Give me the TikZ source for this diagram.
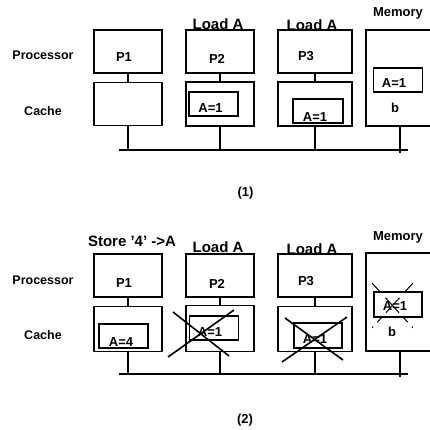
\documentclass[tikz,border=0pt]{standalone}
\usepackage{fontspec}
\setmainfont{Liberation Sans}
\usetikzlibrary{positioning}

\begin{document}
\begin{tikzpicture}[x=1pt, y=-1pt, line width=1.3pt,
    box/.style={rectangle, draw, inner sep=0pt, minimum width=68pt, minimum height=43pt},
    cell/.style={rectangle, draw, inner sep=0pt, minimum width=49pt, minimum height=24pt},
    lbl/.style={font=\fontsize{13}{15}\selectfont\bfseries, inner sep=0pt},
    side/.style={font=\fontsize{12.5}{15}\selectfont\bfseries, inner sep=0pt},
    cmd/.style={font=\fontsize{15}{17}\selectfont\bfseries, inner sep=0pt},
    cross/.style={line width=1.6pt},
    fadex/.style={line width=1pt, dash pattern=on 12pt off 8pt on 20pt off 5pt on 8pt off 6pt on 1.5pt}
]
\useasboundingbox (0,0) rectangle (429,430);

% (1)
\node[side] (proca) at (43,55) {Processor};
\node[side] (cachea) at (43,111) {Cache};
\node[box] (p1a) at (128,51.5) {};
\node[box] (p2a) at (220,51.5) {};
\node[box, minimum width=74pt] (p3a) at (315,51.5) {};
\node[box] (c1a) at (128,104) {};
\node[box, minimum height=44pt] (c2a) at (220,104) {};
\node[box, minimum width=74pt, minimum height=44pt] (c3a) at (315,104) {};
\node[box, minimum height=96pt] (mema) at (400,78) {};
\node[lbl] at (124,57) {P1};
\node[lbl] at (217,59) {P2};
\node[lbl] at (306,56) {P3};
\node[cmd] (lda2) at (218,24) {Load A};
\node[cmd] (lda3) at (312,25) {Load A};
\node[lbl] (memlbla) at (398,13) {Memory};
\node[cell] (a2a) at (213.5,104) {};
\node[lbl] at (210.5,108) {A=1};
\node[cell, minimum width=50pt] (a3a) at (318,111) {};
\node[lbl] at (315,117) {A=1};
\node[cell] (ama) at (398,80) {};
\node[lbl] at (394,83) {A=1};
\node[lbl] at (395,108) {b};
\coordinate (busLa) at (119,150);
\coordinate (busRa) at (408,150);
\coordinate (mda) at (400,153);
\draw (busLa) -- (busRa);
\draw (p1a) -- (c1a);
\draw (p2a) -- (c2a);
\draw (p3a) -- (c3a);
\draw (c1a.south) -- (c1a.south |- busLa);
\draw (c2a.south) -- (c2a.south |- busLa);
\draw (c3a.south) -- (c3a.south |- busLa);
\draw (mema.south) -- (mda);
\node[lbl] (capa) at (245.5,193) {(1)};

% (2)
\node[side] (procb) at (43,280) {Processor};
\node[side] (cacheb) at (43,335) {Cache};
\node[box] (p1b) at (128,275.5) {};
\node[box] (p2b) at (220,275.5) {};
\node[box, minimum width=74pt] (p3b) at (315,275.5) {};
\node[box, minimum height=45pt] (c1b) at (128,329) {};
\node[box, minimum height=46pt] (c2b) at (220,328.5) {};
\node[box, minimum width=74pt, minimum height=45pt] (c3b) at (315,329) {};
\node[box, minimum height=98pt] (memb) at (400,302) {};
\node[lbl] at (124,283) {P1};
\node[lbl] at (217,284) {P2};
\node[lbl] at (306,281) {P3};
\node[cmd] (stb) at (132,241) {Store '4' ->A};
\node[cmd] (ldb2) at (218,247) {Load A};
\node[cmd] (ldb3) at (312,249) {Load A};
\node[lbl] (memlblb) at (398,237) {Memory};
\node[cell] (a1b) at (123.5,336) {};
\node[lbl] at (121,342) {A=4};
\node[cell] (a2b) at (214,328) {};
\node[lbl] at (210,332) {A=1};
\node[cell, minimum width=48pt, minimum height=25pt] (a3b) at (318,335.5) {};
\node[lbl] at (315,339) {A=1};
\node[cell, minimum width=48pt, minimum height=25pt] (amb) at (398,304.5) {};
\node[lbl] at (395,306) {A=1};
\node[lbl] at (392,332) {b};
\coordinate (busLb) at (119,374);
\coordinate (busRb) at (408,374);
\coordinate (mdb) at (400,377);
\draw (busLb) -- (busRb);
\draw (p1b) -- (c1b);
\draw (p2b) -- (c2b);
\draw (p3b) -- (c3b);
\draw (c1b.south) -- (c1b.south |- busLb);
\draw (c2b.south) -- (c2b.south |- busLb);
\draw (c3b.south) -- (c3b.south |- busLb);
\draw (memb.south) -- (mdb);
\draw[cross] (168,357) -- (234,310);
\draw[cross] (173,312) -- (229,356);
\draw[cross] (282,362) -- (347,317);
\draw[cross] (285,318) -- (343,360);
\draw[fadex] (372,283) -- (413,328);
\draw[fadex] (413,283) -- (372,328);
\node[lbl] (capb) at (245,420) {(2)};
\end{tikzpicture}
\end{document}
